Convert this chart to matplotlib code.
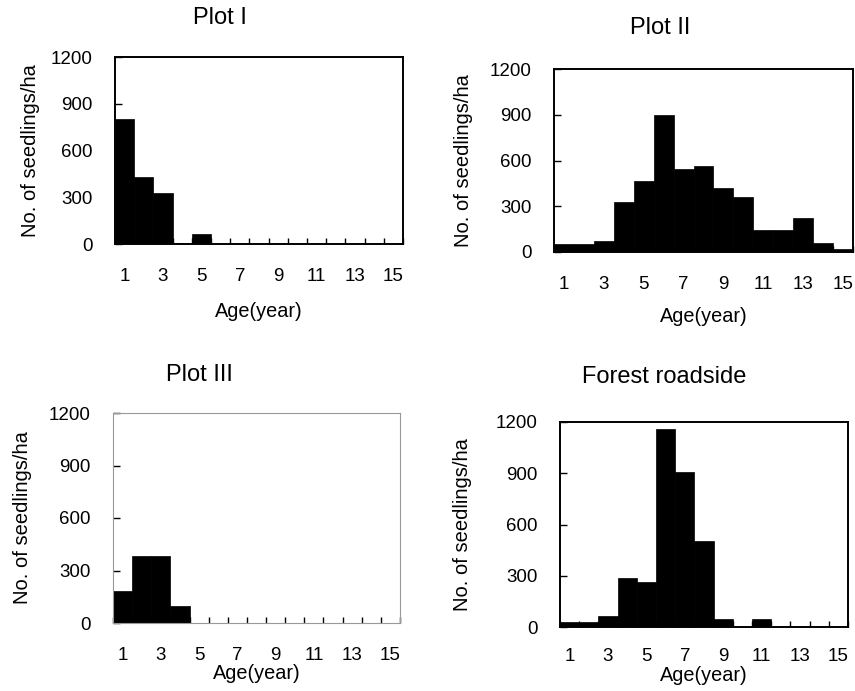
import matplotlib
matplotlib.use("Agg")
import matplotlib.pyplot as plt
import numpy as np

plt.rcParams['font.family'] = ['Liberation Sans', 'DejaVu Sans']

ages = list(range(1, 16))
xtick_labels = [1, 3, 5, 7, 9, 11, 13, 15]
yticks = [0, 300, 600, 900, 1200]

plot1 = [800, 430, 325, 5, 65, 0, 0, 0, 0, 0, 0, 0, 0, 0, 0]
plot2 = [50, 50, 70, 330, 468, 900, 545, 562, 422, 362, 143, 143, 222, 62, 22]
plot3 = [185, 385, 385, 100, 0, 0, 0, 0, 0, 0, 0, 0, 0, 0, 0]
roadside = [28, 28, 65, 285, 265, 1160, 905, 505, 45, 0, 45, 0, 0, 0, 0]

titles = ["Plot I", "Plot II", "Plot III", "Forest roadside"]
series = [plot1, plot2, plot3, roadside]

W, H = 855, 691
# axes boxes in pixels: left, top, right, bottom
boxes = [(115, 57, 403, 244), (554, 69, 853, 252), (113, 413, 400, 623), (560, 422, 848, 627)]
title_x = [220, 660, 199, 664]
title_pad = [24, 25, 23, 28]
xlab_y = [-0.31, -0.30, -0.197, -0.19]
ylab_x = [-0.262, -0.27, -0.282, -0.305]
xtick_pad = [17, 17, 17, 15]
frame_color = ['black', 'black', '#999999', 'black']
frame_lw = [1.4, 1.4, 0.8, 1.4]

fig = plt.figure(figsize=(W / 100, H / 100), dpi=100)

for i in range(4):
    l, t, r, b = boxes[i]
    ax = fig.add_axes([l / W, (H - b) / H, (r - l) / W, (b - t) / H])
    ax.bar(ages, series[i], width=1.0, color='black', edgecolor='black', linewidth=0.5, align='center')
    ax.set_xlim(0.5, 15.5)
    ax.set_ylim(0, 1200)
    ax.set_yticks(yticks)
    ax.set_yticklabels([str(v) for v in yticks], fontsize=13.5)
    ax.set_xticks(xtick_labels)
    ax.set_xticklabels([str(v) for v in xtick_labels], fontsize=13.5)
    ax.set_xticks(np.arange(0.5, 16, 1.0), minor=True)
    ax.tick_params(axis='x', which='major', length=0, pad=xtick_pad[i])
    ax.tick_params(axis='x', which='minor', direction='in', length=4, width=1, top=False)
    ax.tick_params(axis='y', which='major', direction='in', length=5, width=1, pad=16)
    for s in ax.spines.values():
        s.set_color(frame_color[i])
        s.set_linewidth(frame_lw[i])
    ax.set_ylabel("No. of seedlings/ha", fontsize=14.5)
    ax.yaxis.set_label_coords(ylab_x[i], 0.5)
    ax.set_xlabel("Age(year)", fontsize=14.3)
    ax.xaxis.set_label_coords(0.5, xlab_y[i])
    ax.set_title(titles[i], fontsize=17, pad=title_pad[i],
                 x=(title_x[i] - l) / (r - l))

fig.savefig("out.png", dpi=100)
